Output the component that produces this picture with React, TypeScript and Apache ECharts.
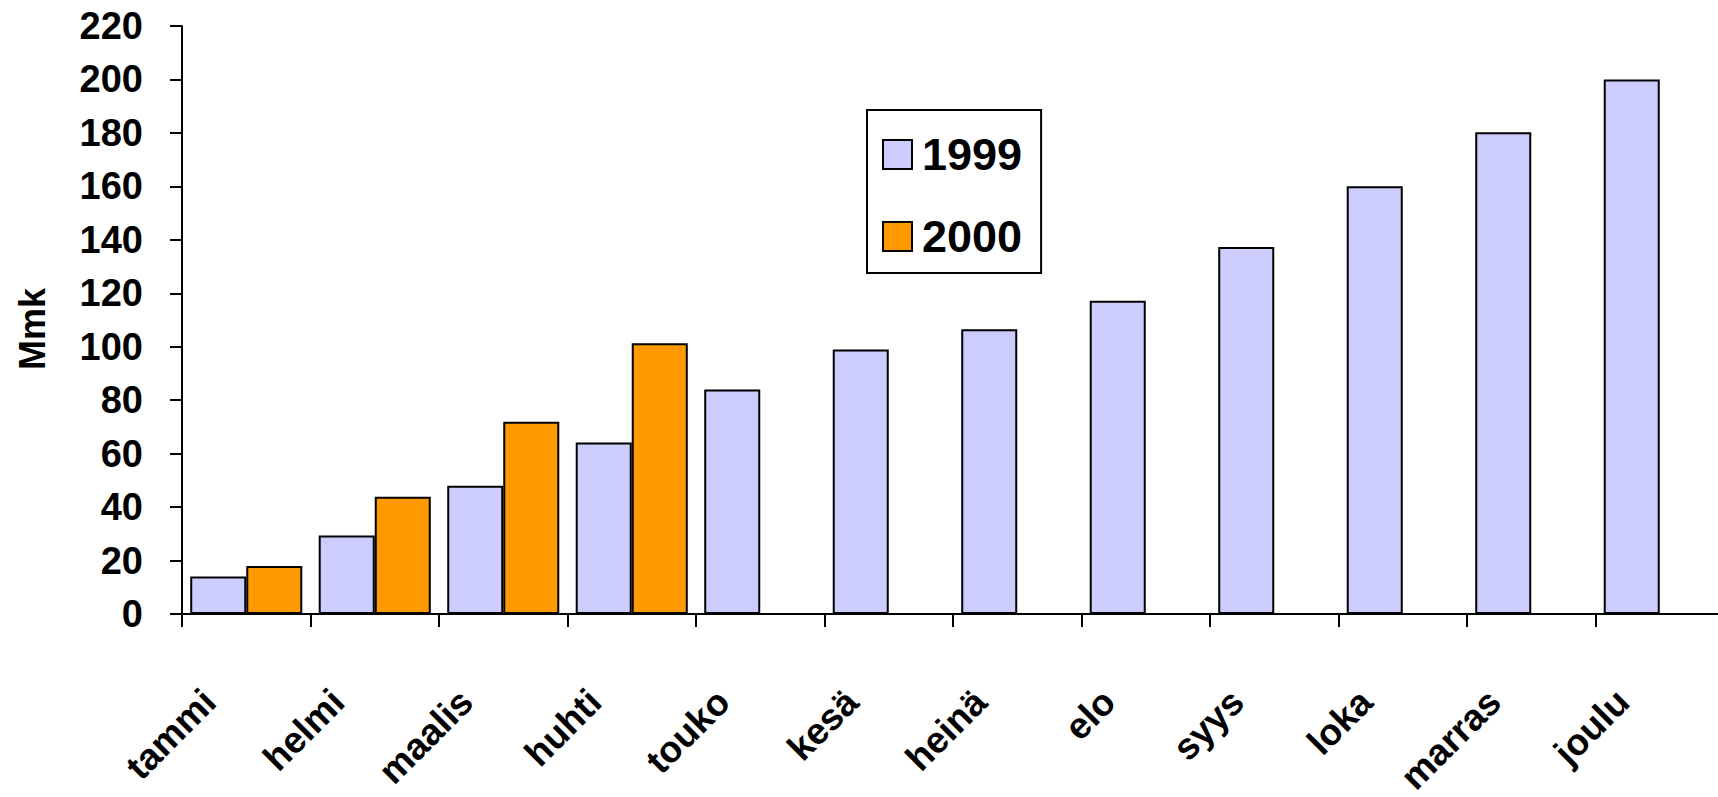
import React, { useEffect, useRef } from "react";
import * as echarts from "echarts";

const categories = ["tammi", "helmi", "maalis", "huhti", "touko", "kesä", "heinä", "elo", "syys", "loka", "marras", "joulu"];
const values1999 = [14, 29.4, 48, 64.2, 84, 99, 106.5, 117.2, 137.3, 160, 180.2, 200];
const values2000 = [18, 43.9, 71.9, 101.3, null, null, null, null, null, null, null, null];
const seriesNames = ["1999", "2000"];
const yMin = 0;
const yMax = 220;
const yInterval = 20;
const yName = "Mmk";

const FONT = "'Liberation Sans', Arial, Helvetica, sans-serif";

export default function App() {
  const ref = useRef<HTMLDivElement>(null);
  useEffect(() => {
    if (!ref.current) return;
    const chart = echarts.init(ref.current, undefined, { renderer: "svg" });
    chart.setOption({
      animation: false,
      backgroundColor: "#ffffff",
      textStyle: { fontFamily: FONT },
      grid: { left: 182, top: 26, bottom: 183, right: -6, containLabel: false, outerBoundsMode: "none" },
      legend: {
        orient: "vertical",
        left: 867,
        top: 110,
        data: seriesNames,
        icon: "rect",
        itemWidth: 29,
        itemHeight: 29,
        itemGap: 37,
        backgroundColor: "#ffffff",
        borderColor: "#000000",
        borderWidth: 2,
        padding: [22, 19, 14, 15],
        textStyle: {
          fontFamily: FONT,
          fontSize: 45,
          fontWeight: "bold",
          color: "#000",
          lineHeight: 29,
          padding: [0, 0, 0, 5],
        },
      },
      xAxis: {
        type: "category",
        data: categories,
        boundaryGap: true,
        axisLine: { lineStyle: { color: "#000", width: 2 } },
        axisTick: { show: true, length: 13, lineStyle: { color: "#000", width: 2 }, alignWithLabel: false },
        axisLabel: {
          interval: 0,
          rotate: 45,
          margin: 45,
          fontFamily: FONT,
          fontSize: 37,
          fontWeight: "bold",
          color: "#000",
          padding: [0, 52, 0, 0],
        },
        splitLine: { show: false },
      },
      yAxis: {
        type: "value",
        min: yMin,
        max: yMax,
        interval: yInterval,
        name: yName,
        nameLocation: "middle",
        nameRotate: 90,
        nameGap: 132,
        nameTextStyle: {
          fontFamily: FONT,
          fontSize: 36,
          fontWeight: "bold",
          color: "#000",
          padding: [0, 18, 0, 0],
        },
        axisLine: { show: true, lineStyle: { color: "#000", width: 2 } },
        axisTick: { show: true, length: 12, lineStyle: { color: "#000", width: 2 } },
        axisLabel: { margin: 39, fontFamily: FONT, fontSize: 38, fontWeight: "bold", color: "#000" },
        splitLine: { show: false },
      },
      series: [
        {
          name: seriesNames[0],
          type: "bar",
          data: values1999,
          barGap: "0%",
          barCategoryGap: "12.8%",
          itemStyle: { color: "#CCCCFF", borderColor: "#000", borderWidth: 2 },
        },
        {
          name: seriesNames[1],
          type: "bar",
          data: values2000,
          barGap: "0%",
          barCategoryGap: "12.8%",
          itemStyle: { color: "#FF9900", borderColor: "#000", borderWidth: 2 },
        },
      ],
    });
    return () => chart.dispose();
  }, []);
  return (
    <div
      ref={ref}
      style={{ position: "fixed", left: 0, top: 0, width: 1718, height: 797 }}
    />
  );
}
